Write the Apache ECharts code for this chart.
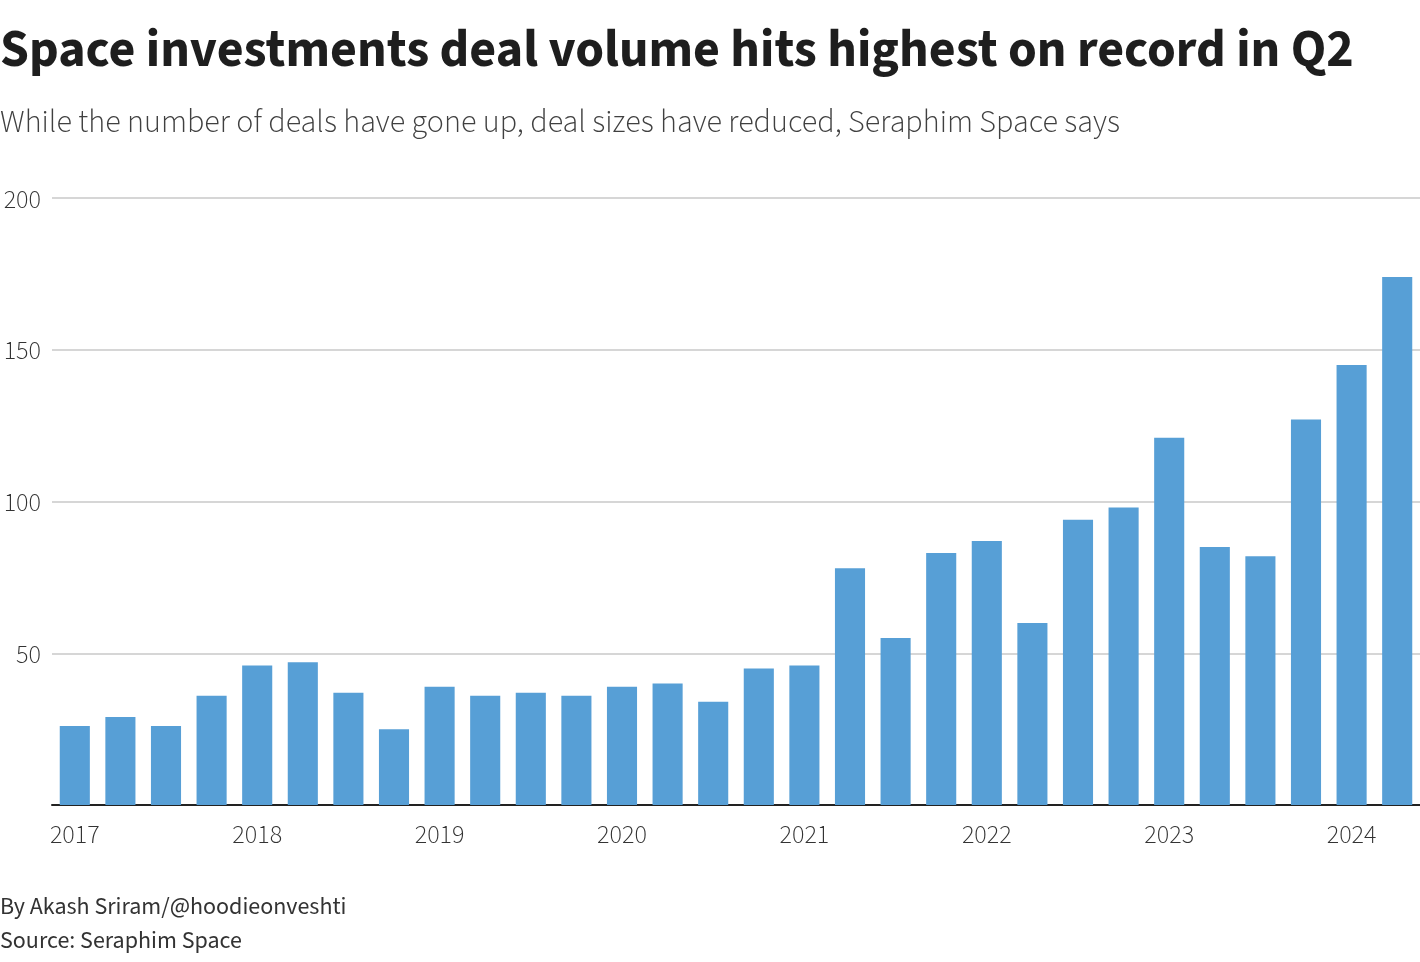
<!DOCTYPE html>
<html>
<head>
<meta charset="utf-8">
<script src="https://cdn.jsdelivr.net/npm/echarts@6/dist/echarts.min.js"></script>
<style>
html,body{margin:0;padding:0;background:#fff;}
#chart{width:1420px;height:962px;}
</style>
</head>
<body>
<div id="chart"></div>
<script>
const quarters = [
  '2017 Q1','2017 Q2','2017 Q3','2017 Q4',
  '2018 Q1','2018 Q2','2018 Q3','2018 Q4',
  '2019 Q1','2019 Q2','2019 Q3','2019 Q4',
  '2020 Q1','2020 Q2','2020 Q3','2020 Q4',
  '2021 Q1','2021 Q2','2021 Q3','2021 Q4',
  '2022 Q1','2022 Q2','2022 Q3','2022 Q4',
  '2023 Q1','2023 Q2','2023 Q3','2023 Q4',
  '2024 Q1','2024 Q2'
];
const dealCounts = [
  26, 29, 26, 36,
  46, 47, 37, 25,
  39, 36, 37, 36,
  39, 40, 34, 45,
  46, 78, 55, 83,
  87, 60, 94, 98,
  121, 85, 82, 127,
  145, 174
];
const yTicks = [0, 50, 100, 150, 200];

const FONT = '"Source Sans 3","Source Sans Pro",Lato,"Noto Sans",sans-serif';
const chart = echarts.init(document.getElementById('chart'));
chart.setOption({
  animation: false,
  backgroundColor: '#fff',
  title: [
    {
      text: 'Space investments deal volume hits highest on record in Q2',
      left: 0, top: 29, padding: 0,
      textStyle: { fontFamily: FONT, fontSize: 52, fontWeight: 'bold', color: '#1e1e1e' }
    },
    {
      text: 'While the number of deals have gone up, deal sizes have reduced, Seraphim Space says',
      left: 0, top: 109, padding: 0,
      textStyle: { fontFamily: FONT, fontSize: 32, fontWeight: 300, color: '#404040' }
    },
    {
      text: 'By Akash Sriram/@hoodieonveshti',
      left: 0, top: 897, padding: 0,
      textStyle: { fontFamily: FONT, fontSize: 24, fontWeight: 'normal', color: '#333' }
    },
    {
      text: 'Source: Seraphim Space',
      left: 0, top: 931, padding: 0,
      textStyle: { fontFamily: FONT, fontSize: 24, fontWeight: 'normal', color: '#333' }
    }
  ],
  grid: { left: 52, right: 0, top: 198, bottom: 157, containLabel: false },
  xAxis: {
    type: 'category',
    data: quarters,
    axisLine: { show: true, lineStyle: { color: '#222', width: 2 } },
    axisTick: { show: false },
    axisLabel: {
      interval: 3,
      margin: 19,
      formatter: v => v.slice(0, 4),
      fontFamily: FONT, fontSize: 26, fontWeight: 300, color: '#333'
    }
  },
  yAxis: {
    type: 'value',
    min: yTicks[0], max: yTicks[yTicks.length - 1], interval: 50,
    axisLine: { show: false },
    axisTick: { show: false },
    splitLine: { lineStyle: { color: '#c8c8c8', width: 1.5 } },
    axisLabel: {
      margin: 11,
      formatter: v => (v === 0 ? '' : '{t|' + v + '}'),
      verticalAlign: 'middle',
      rich: {
        t: {
          fontFamily: FONT, fontSize: 26, fontWeight: 300, color: '#333',
          padding: [8, 0, 0, 0]
        }
      }
    }
  },
  series: [{
    type: 'bar',
    data: dealCounts,
    barCategoryGap: '34%',
    itemStyle: { color: '#579fd6' }
  }]
});
</script>
</body>
</html>
